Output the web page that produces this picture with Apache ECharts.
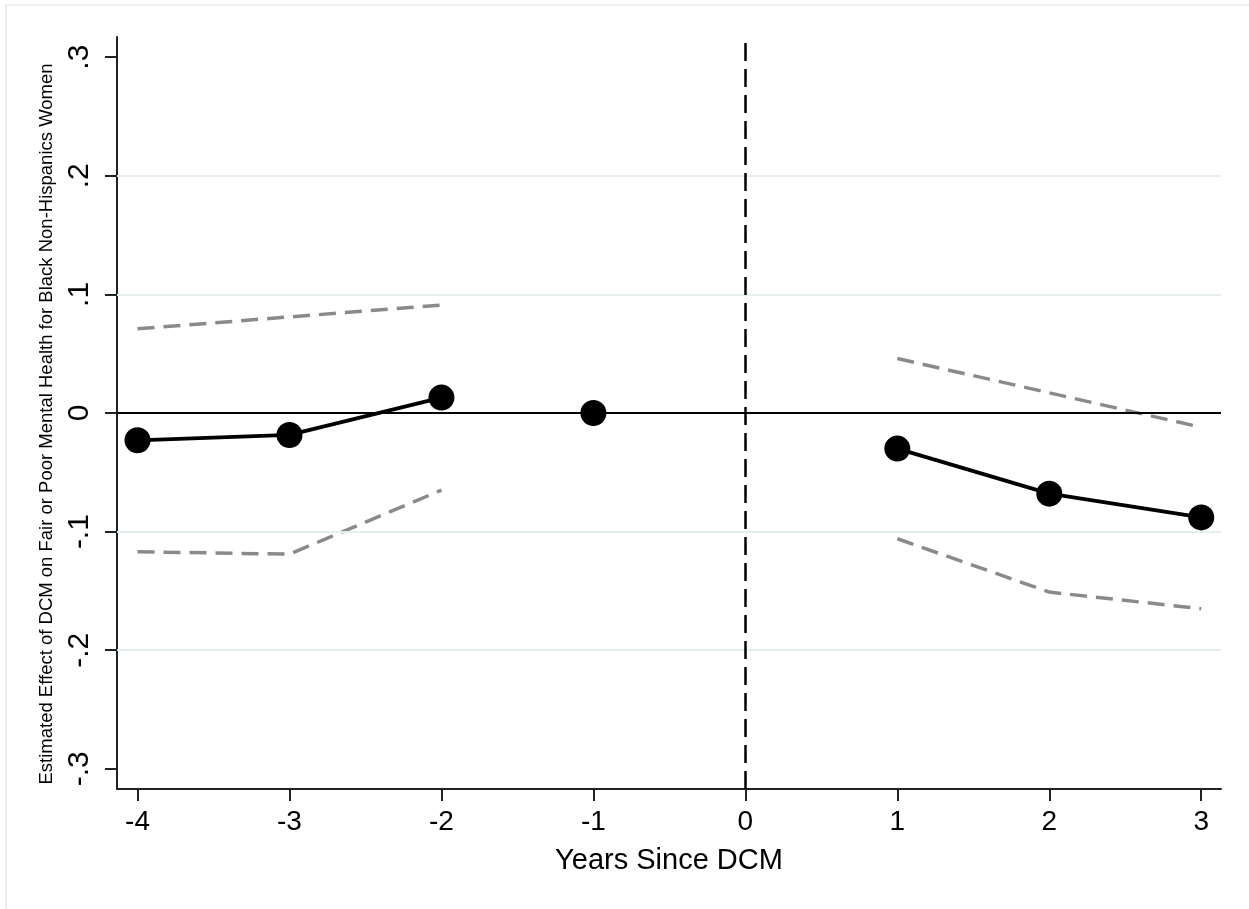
<!DOCTYPE html>
<html>
<head>
<meta charset="utf-8">
<script src="https://cdn.jsdelivr.net/npm/echarts@6/dist/echarts.min.js"></script>
<style>
html,body{margin:0;padding:0;background:#fff;}
#chart{width:1249px;height:909px;}
</style>
</head>
<body>
<div id="chart"></div>
<script>
// ---- data ----
const years = [-4, -3, -2, -1, 1, 2, 3];
const estimate = [-0.023, -0.0185, 0.013, 0, -0.030, -0.068, -0.088];
const upperCI = [0.071, 0.081, 0.091, null, 0.046, 0.017, -0.012];
const lowerCI = [-0.117, -0.119, -0.065, null, -0.106, -0.151, -0.165];
const xTicks = [-4, -3, -2, -1, 0, 1, 2, 3];
const yTicks = [-0.3, -0.2, -0.1, 0, 0.1, 0.2, 0.3];
const gridValues = [-0.2, -0.1, 0.1, 0.2];
const eventYear = 0;
const xTitle = 'Years Since DCM';
const yTitle = 'Estimated Effect of DCM on Fair or Poor Mental Health for Black Non-Hispanics Women';

const FONT = "'Liberation Sans', Arial, Helvetica, sans-serif";

function pick(arr, cond) {
  const out = [];
  years.forEach((yr, i) => { if (cond(yr) && arr[i] !== null) out.push([yr, arr[i]]); });
  return out;
}
const pre = y => y < -1;
const ref = y => y === -1;
const post = y => y > 0;

function yLabel(v) {
  if (Math.abs(v) < 1e-9) return '0';
  const s = (Math.round(v * 10) / 10).toString();
  return s.replace('0.', '.');
}

const ciStyle = { color: '#8a8a8a', width: 3.5, type: [17, 9] };
const mainLine = { color: '#000', width: 3.8 };

const chart = echarts.init(document.getElementById('chart'), null, { renderer: 'canvas' });
chart.setOption({
  animation: false,
  backgroundColor: '#fff',
  graphic: [{
    type: 'rect', z: -10, silent: true,
    shape: { x: 6, y: 5, width: 1300, height: 1000 },
    style: { fill: 'none', stroke: '#e4ecec', lineWidth: 1.5 }
  }, {
    type: 'text', silent: true, x: 47, y: 424, rotation: Math.PI / 2,
    style: { text: yTitle, fontFamily: FONT, fontSize: 18.5, fill: '#000', align: 'center', verticalAlign: 'middle' }
  }],
  grid: { left: 117, right: 28, top: 37, bottom: 120, containLabel: false },
  xAxis: {
    type: 'value', min: -4.135, max: 3.13,
    name: xTitle, nameLocation: 'middle', nameGap: 57,
    nameTextStyle: { fontFamily: FONT, fontSize: 29, color: '#000' },
    axisLine: { show: true, onZero: false, lineStyle: { color: '#222', width: 2 } },
    axisTick: { show: true, length: 12, customValues: xTicks, lineStyle: { color: '#222', width: 2 } },
    axisLabel: { customValues: xTicks, margin: 19, fontFamily: FONT, fontSize: 28, color: '#000',
      formatter: v => String(Math.round(v)) },
    splitLine: { show: false }
  },
  yAxis: {
    type: 'value', min: -0.317, max: 0.317,
    axisLine: { show: true, onZero: false, lineStyle: { color: '#222', width: 2 } },
    axisTick: { show: true, length: 12, customValues: yTicks, lineStyle: { color: '#222', width: 2 } },
    axisLabel: { customValues: yTicks, rotate: 90, margin: 22, fontFamily: FONT, fontSize: 30, color: '#000',
      formatter: yLabel },
    splitLine: { show: false }
  },
  series: [
    {
      type: 'line', data: [], silent: true, z: 1,
      markLine: {
        silent: true, symbol: 'none', label: { show: false },
        data: gridValues.map(v => ({ yAxis: v, lineStyle: { color: '#e6eff0', width: 2, type: 'solid' } }))
          .concat([{ yAxis: 0, lineStyle: { color: '#000', width: 2, type: 'solid' } }])
      }
    },
    {
      type: 'line', data: [], silent: true, z: 3,
      markLine: {
        silent: true, symbol: 'none', label: { show: false },
        data: [{ xAxis: eventYear, lineStyle: { color: '#000', width: 2.5, type: [18, 8] } }]
      }
    },
    { type: 'line', data: pick(upperCI, pre), symbol: 'none', lineStyle: ciStyle, z: 4 },
    { type: 'line', data: pick(lowerCI, pre), symbol: 'none', lineStyle: ciStyle, z: 4 },
    { type: 'line', data: pick(upperCI, post), symbol: 'none', lineStyle: ciStyle, z: 4 },
    { type: 'line', data: pick(lowerCI, post), symbol: 'none', lineStyle: ciStyle, z: 4 },
    { type: 'line', data: pick(estimate, pre), symbol: 'circle', symbolSize: 26, showAllSymbol: true,
      itemStyle: { color: '#000', opacity: 1 }, lineStyle: mainLine, z: 5 },
    { type: 'scatter', data: pick(estimate, ref), symbol: 'circle', symbolSize: 26,
      itemStyle: { color: '#000', opacity: 1 }, z: 5 },
    { type: 'line', data: pick(estimate, post), symbol: 'circle', symbolSize: 26, showAllSymbol: true,
      itemStyle: { color: '#000', opacity: 1 }, lineStyle: mainLine, z: 5 }
  ]
});
</script>
</body>
</html>
